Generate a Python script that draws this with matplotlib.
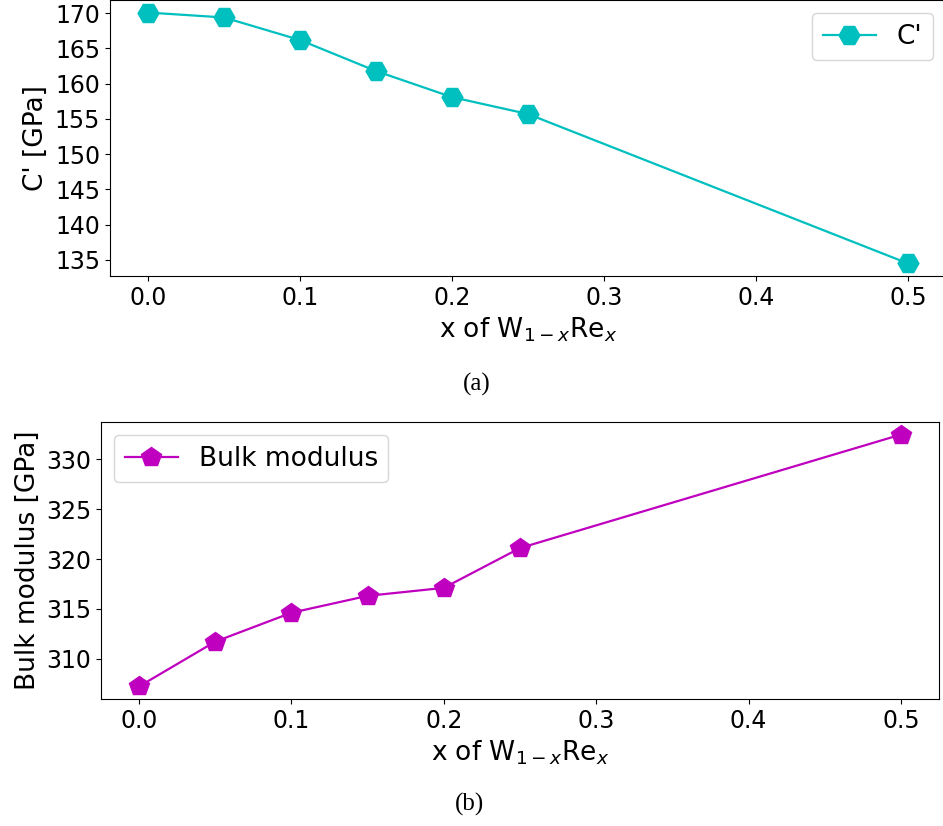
import numpy as np
import matplotlib
matplotlib.use('Agg')
import matplotlib.pyplot as plt
from matplotlib.ticker import MultipleLocator

# Re content x in W(1-x)Re(x)
x_re = [0.0, 0.05, 0.10, 0.15, 0.20, 0.25, 0.50]

# Elastic constants [GPa]
c_prime = [170.1, 169.4, 166.2, 161.8, 158.1, 155.7, 134.5]
bulk_mod = [307.2, 311.7, 314.6, 316.3, 317.1, 321.1, 332.5]

plt.rcParams.update({'font.family': 'DejaVu Sans', 'font.size': 19,
                     'xtick.labelsize': 17, 'ytick.labelsize': 17,
                     'legend.fontsize': 19})

W, H = 943, 826
fig = plt.figure(figsize=(W / 100, H / 100), dpi=100)

def px_axes(left, top, right, bottom):
    return fig.add_axes([left / W, 1 - bottom / H, (right - left) / W, (bottom - top) / H])

# (a) C'
ax1 = px_axes(110, 0, 946, 276)
ax1.plot(x_re, c_prime, color='c', marker='H', markersize=15, linewidth=1.6, label="C'")
ax1.set_xlabel(r'x of W$_{1-x}$Re$_x$')
ax1.set_ylabel("C' [GPa]")
ax1.set_xticks([0.0, 0.1, 0.2, 0.3, 0.4, 0.5])
ax1.yaxis.set_major_locator(MultipleLocator(5))
ax1.legend(loc='upper right')

# (b) bulk modulus
ax2 = px_axes(101, 422, 939, 699)
ax2.plot(x_re, bulk_mod, color='m', marker='p', markersize=15, linewidth=1.6, label='Bulk modulus')
ax2.set_xlabel(r'x of W$_{1-x}$Re$_x$')
ax2.set_ylabel('Bulk modulus [GPa]')
ax2.set_xticks([0.0, 0.1, 0.2, 0.3, 0.4, 0.5])
ax2.yaxis.set_major_locator(MultipleLocator(5))
ax2.legend(loc='upper left')

fig.text(477 / W, 1 - 384 / H, '(a)', family='Liberation Serif', fontsize=18, ha='center', va='center')
fig.text(469 / W, 1 - 804 / H, '(b)', family='Liberation Serif', fontsize=18, ha='center', va='center')

fig.savefig('out.png', dpi=100)
